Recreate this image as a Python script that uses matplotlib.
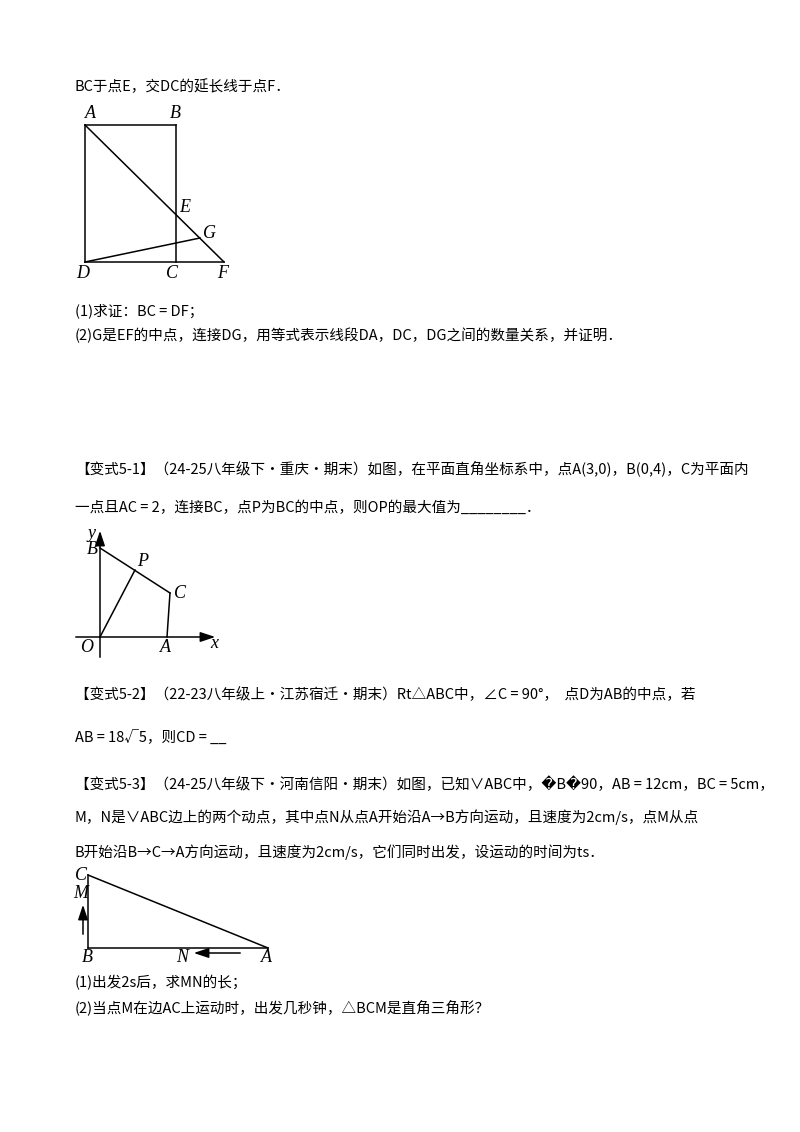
import matplotlib
matplotlib.use("Agg")
import matplotlib.pyplot as plt

plt.rcParams['font.family'] = ['Noto Sans CJK SC', 'DejaVu Sans']

# text lines (y in px, text)
lines = [
    (87, "BC于点E，交DC的延长线于点F．"),
    (311, "(1)求证：BC = DF；"),
    (335, "(2)G是EF的中点，连接DG，用等式表示线段DA，DC，DG之间的数量关系，并证明．"),
    (468, "【变式5-1】（24-25八年级下·重庆·期末）如图，在平面直角坐标系中，点A(3,0)，B(0,4)，C为平面内"),
    (508, "一点且AC = 2，连接BC，点P为BC的中点，则OP的最大值为________．"),
    (695, "【变式5-2】（22-23八年级上·江苏宿迁·期末）Rt△ABC中，∠C = 90°，  点D为AB的中点，若"),
    (738, "AB = 18√5，则CD = __"),
    (784, "【变式5-3】（24-25八年级下·河南信阳·期末）如图，已知∨ABC中，\ufffdB\ufffd90，AB = 12cm，BC = 5cm，"),
    (817, "M，N是∨ABC边上的两个动点，其中点N从点A开始沿A→B方向运动，且速度为2cm/s，点M从点"),
    (852, "B开始沿B→C→A方向运动，且速度为2cm/s，它们同时出发，设运动的时间为ts．"),
    (983, "(1)出发2s后，求MN的长；"),
    (1007, "(2)当点M在边AC上运动时，出发几秒钟，△BCM是直角三角形？"),
]

# figure 1 points
fig1 = {"A": (85, 125), "B": (176, 125), "C": (176, 262), "D": (85, 262),
        "E": (176, 214), "F": (224, 262), "G": (200, 238)}
fig1_segments = [("A", "B"), ("B", "C"), ("D", "F"), ("A", "D"), ("A", "F"), ("D", "G")]
fig1_labels = {"A": (90, 114), "B": (175, 114), "E": (185, 207), "G": (210, 233),
               "D": (83, 274), "C": (172, 274), "F": (223, 274)}

# figure 2 points
fig2 = {"O": (100, 637), "B": (100, 548), "A": (167, 637), "C": (170, 593), "P": (135, 570)}
fig2_segments = [("B", "C"), ("O", "P"), ("A", "C")]
fig2_labels = {"y": (92, 534), "B": (92, 550), "P": (143, 562), "C": (180, 593),
               "O": (87, 648), "A": (165, 647), "x": (214, 644)}

# figure 3 points
fig3 = {"C": (88, 875), "B": (88, 948), "A": (268, 948)}
fig3_segments = [("C", "B"), ("B", "A"), ("A", "C")]
fig3_labels = {"C": (81, 875), "M": (81, 894), "B": (87, 958), "N": (182, 958), "A": (266, 958)}

fig = plt.figure(figsize=(8, 11.32), dpi=100)
ax = fig.add_axes([0, 0, 1, 1])
ax.set_xlim(0, 800)
ax.set_ylim(1132, 0)
ax.axis('off')

for y, t in lines:
    ax.text(75, y, t, fontsize=10.5, va='center', ha='left')

lab = dict(fontsize=13, family='Liberation Serif', style='italic', ha='center', va='center')

def draw(pts, segs, labels):
    for a, b in segs:
        ax.plot([pts[a][0], pts[b][0]], [pts[a][1], pts[b][1]], color='black', lw=1.1)
    for k, (x, y) in labels.items():
        ax.text(x, y, k, **lab)

draw(fig1, fig1_segments, fig1_labels)
draw(fig2, fig2_segments, fig2_labels)
draw(fig3, fig3_segments, fig3_labels)

arr = dict(arrowstyle='-|>,head_length=0.9,head_width=0.3', color='black', lw=1.1, mutation_scale=10)
# axes of figure 2
ax.annotate("", xy=(218, 637), xytext=(73, 637), arrowprops=arr)
ax.annotate("", xy=(100, 528), xytext=(100, 660), arrowprops=arr)
# motion arrows of figure 3
ax.annotate("", xy=(83, 902), xytext=(83, 937), arrowprops=arr)
ax.annotate("", xy=(191, 953), xytext=(243, 953), arrowprops=arr)

fig.savefig("out.png", dpi=100)
